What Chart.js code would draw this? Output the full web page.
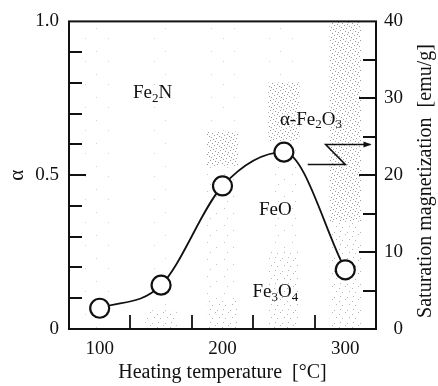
<!DOCTYPE html>
<html>
<head>
<meta charset="utf-8">
<script src="https://cdn.jsdelivr.net/npm/chart.js@4"></script>
<style>
  html, body { margin: 0; padding: 0; background: #fff; }
</style>
</head>
<body>
<canvas id="myChart" width="438" height="386"></canvas>
<script>
const temps = [100, 150, 200, 250, 300];
const magnetization = [2.7, 5.7, 18.6, 23.0, 7.7];
// phase fractions (alpha), stacked from the bottom up
const fe3o4 = [0, 0.06, 0.09, 0.25, 0.35];
const feo = [0, 0, 0.44, 0.36, 0];
const fe2o3 = [0, 0, 0.11, 0.19, 0.65];
const fe2n = [1.0, 0.94, 0.36, 0.20, 0];
const xTickLabels = [100, 200, 300];
const xTickMarks = [125, 175, 225, 275];
const alphaTickLabels = [0, 0.5, 1.0];
const magTickLabels = [0, 10, 20, 30, 40];

// phase names: [text, isSubscript] pieces, placed in data coords (x, alpha)
const phaseNames = [
  { parts: [['Fe', 0], ['2', 1], ['N', 0]], x: 143, y: 0.766 },
  { parts: [['\u03b1-Fe', 0], ['2', 1], ['O', 0], ['3', 1]], x: 272, y: 0.68 },
  { parts: [['FeO', 0]], x: 243, y: 0.386 },
  { parts: [['Fe', 0], ['3', 1], ['O', 0], ['4', 1]], x: 243, y: 0.12 }
];
// zig-zag arrow towards the right axis (x, magnetization)
const arrowPath = [[269.4, 21.4], [300, 21.4], [284, 24.0], [320.5, 24.0]];

const FONT = 'Liberation Serif';
const ctx = document.getElementById('myChart').getContext('2d');

// small stipple tiles for the shaded phase regions
function makeStipple(size, dots, color) {
  const c = document.createElement('canvas');
  c.width = size; c.height = size;
  const g = c.getContext('2d');
  g.fillStyle = '#fff';
  g.fillRect(0, 0, size, size);
  g.fillStyle = color;
  dots.forEach(([x, y]) => g.fillRect(x, y, 1, 1));
  return g.createPattern(c, 'repeat');
}
const denseFill = makeStipple(10, [[0, 0], [5, 1], [2, 3], [8, 2], [4, 5], [9, 6], [1, 7], [6, 8], [3, 9], [7, 4]], '#9a9a9a');
const lightFill = makeStipple(13, [[1, 2], [7, 0], [4, 6], [11, 5], [2, 10], [9, 11]], '#b4b4b4');
const faintFill = makeStipple(17, [[3, 4], [12, 9], [6, 14]], '#c4c4c4');
const blankFill = makeStipple(23, [[4, 5], [16, 15]], '#d2d2d2');

function drawChem(c, parts, cx, cy) {
  const big = '19px "' + FONT + '"', small = '13px "' + FONT + '"';
  let w = 0;
  parts.forEach(([t, sub]) => { c.font = sub ? small : big; w += c.measureText(t).width; });
  let x = cx - w / 2;
  c.textAlign = 'left';
  c.textBaseline = 'middle';
  parts.forEach(([t, sub]) => {
    c.font = sub ? small : big;
    c.fillText(t, x, sub ? cy + 5 : cy);
    x += c.measureText(t).width;
  });
}

const extras = {
  id: 'extras',
  afterDatasetsDraw(chart) {
    const c = chart.ctx, xs = chart.scales.x, ys = chart.scales.y, y2 = chart.scales.y2;
    c.save();
    c.fillStyle = '#111';
    phaseNames.forEach(p => drawChem(c, p.parts, xs.getPixelForValue(p.x), ys.getPixelForValue(p.y)));

    // arrow
    c.strokeStyle = '#111';
    c.lineWidth = 1.6;
    c.beginPath();
    arrowPath.forEach(([vx, vy], i) => {
      const px = xs.getPixelForValue(vx), py = y2.getPixelForValue(vy);
      if (i === 0) c.moveTo(px, py); else c.lineTo(px, py);
    });
    c.stroke();
    const end = arrowPath[arrowPath.length - 1];
    const ex = xs.getPixelForValue(end[0]), ey = y2.getPixelForValue(end[1]);
    c.fillStyle = '#111';
    c.beginPath();
    c.moveTo(ex + 1, ey);
    c.lineTo(ex - 7, ey - 3);
    c.lineTo(ex - 7, ey + 3);
    c.closePath();
    c.fill();
    c.restore();
  },
  afterDraw(chart) {
    const c = chart.ctx, a = chart.chartArea;
    const xs = chart.scales.x, ys = chart.scales.y, y2 = chart.scales.y2;
    c.save();
    c.strokeStyle = '#111';
    c.lineWidth = 2;
    c.strokeRect(a.left, a.top, a.right - a.left, a.bottom - a.top);

    // inward tick marks
    c.lineWidth = 1.8;
    c.beginPath();
    ys.ticks.forEach(t => {
      if (t.value <= 0.001 || t.value >= 0.999) return;
      const py = Math.round(ys.getPixelForValue(t.value));
      const len = Math.abs(t.value - 0.5) < 0.001 ? 17 : 13;
      c.moveTo(a.left, py); c.lineTo(a.left + len, py);
    });
    y2.ticks.forEach(t => {
      if (t.value <= 0 || t.value >= 40) return;
      const py = Math.round(y2.getPixelForValue(t.value));
      const len = t.value % 10 === 0 ? 17 : 13;
      c.moveTo(a.right, py); c.lineTo(a.right - len, py);
    });
    xTickMarks.forEach(v => {
      const px = Math.round(xs.getPixelForValue(v));
      c.moveTo(px, a.bottom); c.lineTo(px, a.bottom - 14);
    });
    c.stroke();

    // axis titles
    c.fillStyle = '#111';
    c.textAlign = 'center';
    c.textBaseline = 'middle';
    c.font = '20px "' + FONT + '"';
    c.fillText('Heating temperature  [\u00b0C]', (a.left + a.right) / 2, 373);

    c.save();
    c.translate(17, (a.top + a.bottom) / 2);
    c.rotate(-Math.PI / 2);
    c.font = '21px "' + FONT + '"';
    c.fillText('\u03b1', 0, 0);
    c.restore();

    c.save();
    c.translate(426, 181);
    c.rotate(-Math.PI / 2);
    c.font = '20px "' + FONT + '"';
    c.fillText('Saturation magnetization  [emu/g]', 0, 0);
    c.restore();
    c.restore();
  }
};

function phaseSet(label, values, fill) {
  return {
    type: 'bar',
    label: label,
    data: temps.map((t, i) => ({ x: t, y: values[i] })),
    backgroundColor: fill,
    borderWidth: 0,
    barPercentage: 1,
    categoryPercentage: 1,
    yAxisID: 'y',
    order: 1
  };
}

const tickFont = { family: FONT, size: 19 };

new Chart(ctx, {
  type: 'bar',
  data: {
    datasets: [
      {
        type: 'line',
        label: 'Saturation magnetization',
        data: temps.map((t, i) => ({ x: t, y: magnetization[i] })),
        yAxisID: 'y2',
        borderColor: '#111',
        borderWidth: 1.8,
        cubicInterpolationMode: 'monotone',
        pointRadius: 9.5,
        pointBorderWidth: 2.2,
        pointBackgroundColor: '#fff',
        pointBorderColor: '#111',
        clip: false,
        order: 0
      },
      phaseSet('Fe3O4', fe3o4, lightFill),
      phaseSet('FeO', feo, faintFill),
      phaseSet('alpha-Fe2O3', fe2o3, denseFill),
      phaseSet('Fe2N', fe2n, blankFill)
    ]
  },
  options: {
    responsive: false,
    animation: false,
    layout: { padding: { top: 21, right: 35, left: 0, bottom: 0 } },
    plugins: { legend: { display: false }, tooltip: { enabled: false } },
    scales: {
      x: {
        type: 'linear', min: 75, max: 325, stacked: true, offset: false,
        afterBuildTicks: s => {
          s.ticks = [...xTickLabels, ...xTickMarks].sort((p, q) => p - q).map(v => ({ value: v }));
        },
        afterFit: s => { s.height = 57; },
        grid: { display: false, drawTicks: false, offset: false },
        border: { display: false },
        ticks: {
          autoSkip: false, maxRotation: 0, padding: 9, color: '#111', font: tickFont,
          callback: v => xTickLabels.includes(v) ? String(v) : ''
        }
      },
      y: {
        position: 'left', min: 0, max: 1, stacked: true,
        afterFit: s => { s.width = 69; },
        grid: { display: false, drawTicks: false },
        border: { display: false },
        ticks: {
          stepSize: 0.1, autoSkip: false, padding: 10, color: '#111', font: tickFont,
          callback: v => {
            const hit = alphaTickLabels.find(l => Math.abs(l - v) < 1e-6);
            if (hit === undefined) return '';
            return hit === 0 ? '0' : hit.toFixed(1);
          }
        }
      },
      y2: {
        position: 'right', min: 0, max: 40,
        afterFit: s => { s.width = 27; },
        grid: { display: false, drawTicks: false },
        border: { display: false },
        ticks: {
          stepSize: 5, autoSkip: false, crossAlign: 'far', color: '#111', font: tickFont,
          callback: v => magTickLabels.includes(v) ? String(v) : ''
        }
      }
    }
  },
  plugins: [extras]
});
</script>
</body>
</html>
